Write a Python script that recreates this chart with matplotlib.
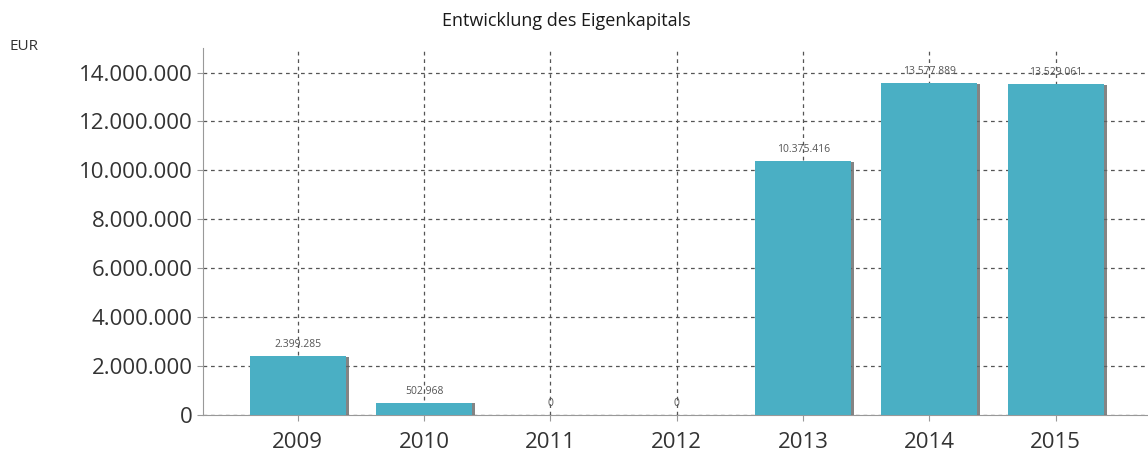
import matplotlib

matplotlib.use("Agg")
import matplotlib.pyplot as plt
import matplotlib.patheffects as pe
from matplotlib.ticker import FuncFormatter, MultipleLocator

# Daten
jahre = ["2009", "2010", "2011", "2012", "2013", "2014", "2015"]
eigenkapital = [2399285, 502968, 0, 0, 10375416, 13577889, 13529061]

BAR = "#4aafc4"
GRID = "#555555"
TXT = "#333333"


def de(v, pos=None):
    return f"{int(round(v)):,}".replace(",", ".")


plt.rcParams["font.family"] = ["Open Sans", "DejaVu Sans"]

fig = plt.figure(figsize=(11.48, 4.54), dpi=100)
ax = fig.add_axes([0.1768, 0.0859, 1 - 0.1768, 0.894 - 0.0859])

x = list(range(len(jahre)))
ax.bar(x, eigenkapital, width=0.76, color=BAR, zorder=3,
       path_effects=[pe.SimplePatchShadow(offset=(2, -0.5), shadow_rgbFace="#666666", alpha=0.8),
                     pe.Normal()])
for xi, v in zip(x, eigenkapital):
    ax.text(xi, v + 250000, de(v), ha="center", va="bottom", fontsize=7.5, color="#555555", zorder=4)

ax.set_xlim(-0.75, 6.73)
ax.set_ylim(0, 15000000)
ax.yaxis.set_major_locator(MultipleLocator(2000000))
ax.yaxis.set_major_formatter(FuncFormatter(de))
ax.set_xticks(x)
ax.set_xticklabels(jahre)
ax.tick_params(axis="both", labelsize=16, colors="#999999", labelcolor=TXT, length=4)
ax.tick_params(axis="x", pad=8)

ax.grid(True, linestyle=(0, (3, 3)), color=GRID, linewidth=0.9, zorder=0)
ax.set_axisbelow(True)
for s in ["top", "right"]:
    ax.spines[s].set_visible(False)
ax.spines["left"].set_color("#999999")
ax.spines["bottom"].set_color("#999999")

fig.text(0.493, 0.953, "Entwicklung des Eigenkapitals", ha="center", va="center",
         fontsize=13, fontweight="medium", color="#1a1a1a")
fig.text(0.008, 0.897, "EUR", ha="left", va="center", fontsize=11, color=TXT)

fig.savefig("out.png", dpi=100)
plt.close(fig)
